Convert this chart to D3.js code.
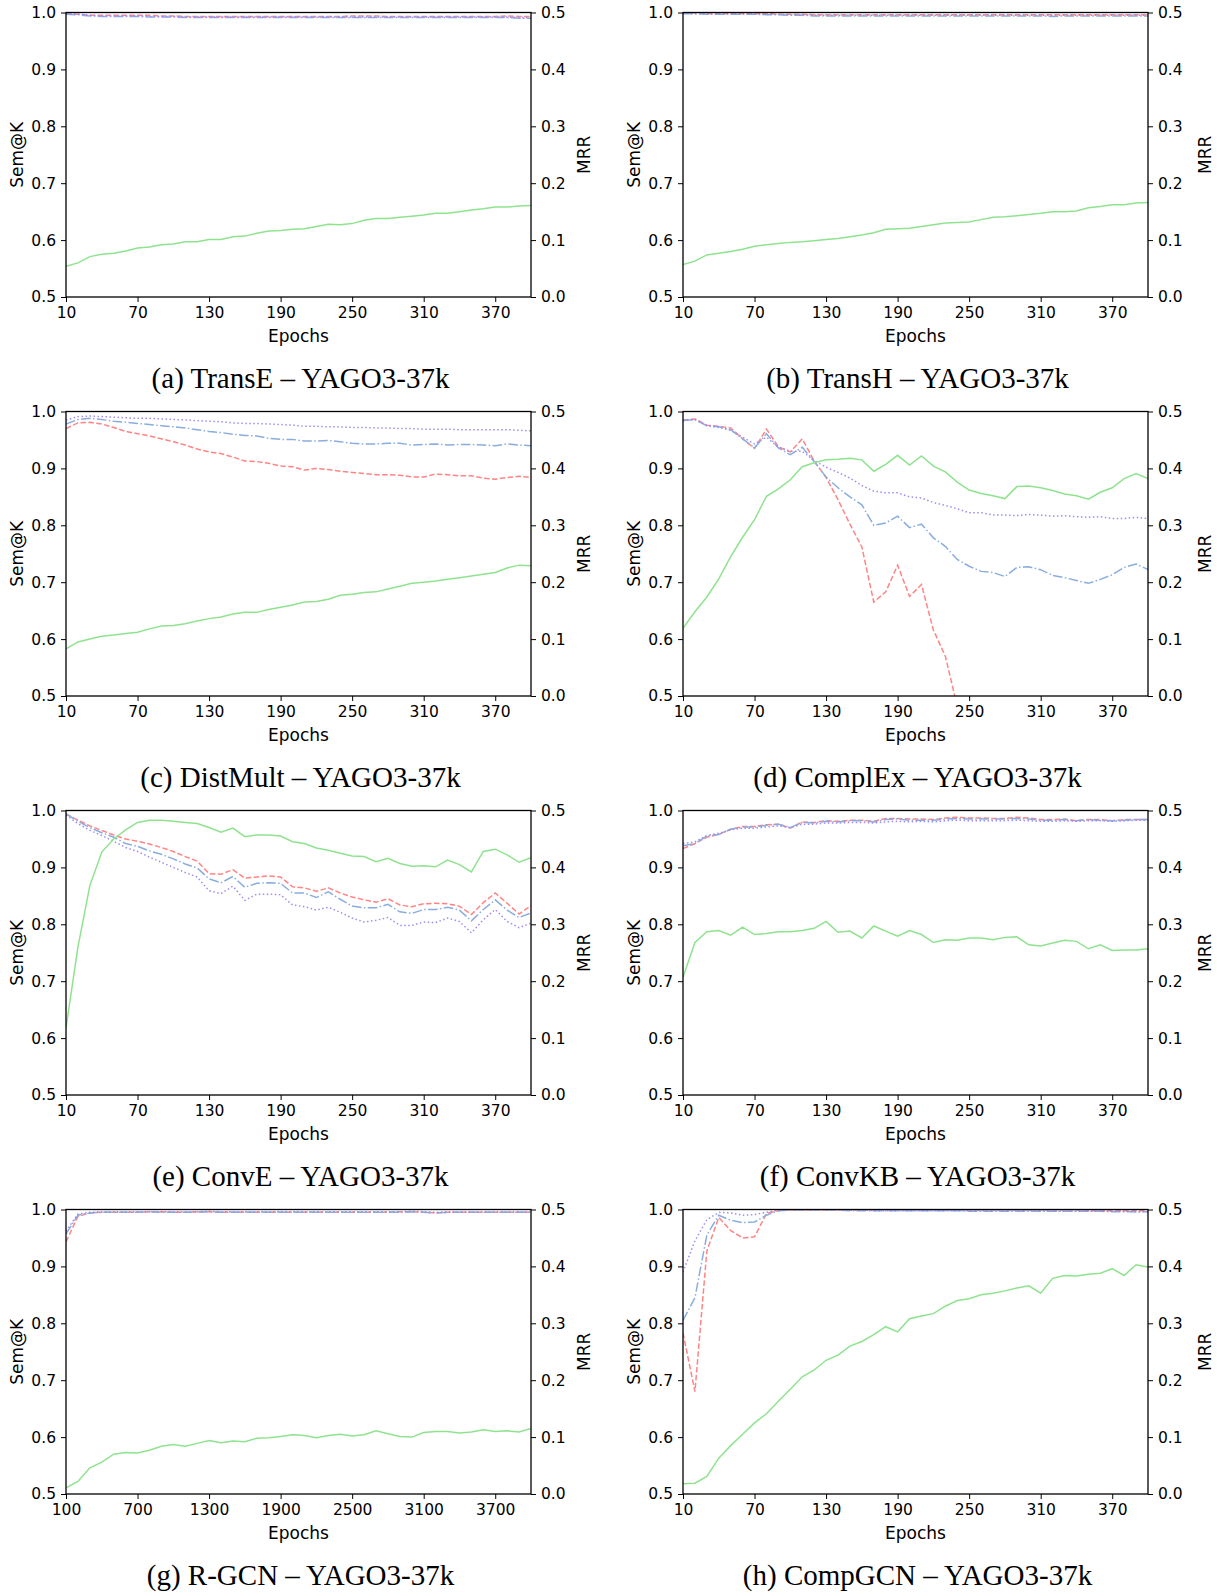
<!DOCTYPE html>
<meta charset="utf-8">
<script src="https://d3js.org/d3.v7.min.js"></script>
<style>
  body { margin: 0; background: #fff; }
</style>
<div id="my_dataviz"></div>
<script>

// epochs on the x axis
var epochs = [10,20,30,40,50,60,70,80,90,100,110,120,130,140,150,160,170,180,190,200,
              210,220,230,240,250,260,270,280,290,300,310,320,330,340,350,360,370,380,390,400];
var rgcnEpochs = [100,200,300,400,500,600,700,800,900,1000,1100,1200,1300,1400,1500,1600,1700,1800,1900,2000,
                  2100,2200,2300,2400,2500,2600,2700,2800,2900,3000,3100,3200,3300,3400,3500,3600,3700,3800,3900,4000];
var xTicks = [10,70,130,190,250,310,370];
var rgcnTicks = [100,700,1300,1900,2500,3100,3700];
var semTicks = [0.5,0.6,0.7,0.8,0.9,1.0];
var mrrTicks = [0.0,0.1,0.2,0.3,0.4,0.5];

// (a) TransE
var transeSem1 = [0.998,0.997,0.995,0.995,0.995,0.995,0.995,0.995,0.994,0.994,0.993,0.993,0.993,0.993,0.993,0.993,0.993,0.993,0.993,0.993,
                  0.993,0.993,0.993,0.993,0.994,0.994,0.994,0.993,0.993,0.993,0.993,0.993,0.993,0.993,0.993,0.993,0.993,0.994,0.993,0.993];
var transeSem3 = [0.997,0.996,0.994,0.993,0.993,0.993,0.993,0.992,0.992,0.992,0.991,0.991,0.991,0.991,0.991,0.991,0.991,0.991,0.991,0.991,
                  0.991,0.991,0.991,0.991,0.991,0.991,0.991,0.991,0.991,0.991,0.991,0.991,0.991,0.991,0.991,0.991,0.991,0.991,0.990,0.990];
var transeSem10 = [0.998,0.997,0.995,0.994,0.994,0.994,0.994,0.993,0.993,0.993,0.992,0.992,0.992,0.992,0.992,0.992,0.992,0.992,0.992,0.992,
                   0.992,0.992,0.992,0.992,0.992,0.992,0.992,0.992,0.992,0.992,0.992,0.992,0.992,0.992,0.992,0.992,0.992,0.992,0.991,0.991];
var transeMrr = [0.054,0.060,0.071,0.075,0.077,0.081,0.086,0.088,0.092,0.093,0.097,0.097,0.101,0.101,0.106,0.107,0.112,0.116,0.117,0.119,
                 0.120,0.124,0.128,0.127,0.129,0.135,0.138,0.138,0.140,0.142,0.144,0.147,0.147,0.150,0.153,0.155,0.158,0.158,0.160,0.161];

// (b) TransH
var transhSem1 = [0.999,0.999,0.998,0.998,0.998,0.998,0.998,0.998,0.997,0.997,0.997,0.996,0.996,0.996,0.996,0.996,0.996,0.996,0.996,0.996,
                  0.996,0.996,0.996,0.996,0.996,0.996,0.996,0.996,0.996,0.996,0.996,0.996,0.996,0.996,0.996,0.996,0.996,0.996,0.996,0.996];
var transhSem3 = [0.998,0.998,0.997,0.997,0.997,0.997,0.997,0.996,0.996,0.995,0.995,0.994,0.994,0.994,0.994,0.994,0.994,0.994,0.994,0.994,
                  0.994,0.994,0.994,0.994,0.994,0.994,0.994,0.994,0.994,0.994,0.994,0.993,0.994,0.994,0.994,0.994,0.994,0.994,0.994,0.994];
var transhSem10 = [0.999,0.998,0.998,0.998,0.998,0.998,0.998,0.997,0.997,0.996,0.996,0.995,0.995,0.995,0.995,0.995,0.995,0.995,0.995,0.995,
                   0.995,0.995,0.995,0.995,0.995,0.995,0.995,0.995,0.995,0.995,0.995,0.995,0.995,0.995,0.995,0.995,0.995,0.995,0.995,0.995];
var transhMrr = [0.057,0.063,0.074,0.077,0.080,0.084,0.089,0.092,0.094,0.096,0.097,0.099,0.101,0.103,0.106,0.109,0.113,0.119,0.120,0.121,
                 0.124,0.127,0.130,0.131,0.132,0.136,0.140,0.141,0.143,0.145,0.147,0.150,0.150,0.151,0.157,0.159,0.162,0.162,0.165,0.166];

// (c) DistMult
var distmultSem1 = [0.970,0.980,0.981,0.978,0.972,0.965,0.961,0.957,0.952,0.947,0.941,0.934,0.929,0.926,0.920,0.913,0.912,0.909,0.904,0.903,
                    0.897,0.900,0.898,0.895,0.893,0.891,0.889,0.889,0.888,0.885,0.885,0.890,0.889,0.887,0.887,0.883,0.881,0.884,0.886,0.884];
var distmultSem3 = [0.978,0.986,0.988,0.986,0.983,0.981,0.979,0.977,0.975,0.973,0.971,0.968,0.965,0.963,0.960,0.958,0.957,0.953,0.951,0.951,
                    0.948,0.948,0.949,0.947,0.944,0.943,0.943,0.944,0.944,0.941,0.942,0.943,0.941,0.942,0.942,0.941,0.940,0.943,0.941,0.940];
var distmultSem10 = [0.985,0.991,0.992,0.991,0.990,0.989,0.988,0.988,0.987,0.986,0.985,0.984,0.983,0.982,0.980,0.979,0.979,0.978,0.977,0.976,
                     0.974,0.974,0.973,0.973,0.972,0.972,0.971,0.971,0.970,0.970,0.969,0.969,0.969,0.968,0.968,0.968,0.968,0.968,0.967,0.966];
var distmultMrr = [0.083,0.095,0.100,0.105,0.107,0.110,0.112,0.118,0.123,0.124,0.127,0.132,0.136,0.139,0.144,0.147,0.147,0.152,0.156,0.160,
                   0.165,0.166,0.170,0.177,0.179,0.182,0.183,0.188,0.193,0.198,0.200,0.202,0.205,0.208,0.211,0.214,0.217,0.225,0.230,0.229];

// (d) ComplEx (Sem@1 drops below the axis after epoch 240)
var complexSem1 = [0.985,0.987,0.976,0.974,0.971,0.952,0.935,0.969,0.938,0.929,0.952,0.913,0.884,0.845,0.802,0.762,0.665,0.683,0.730,0.675,
                   0.696,0.616,0.570,0.482,null,null,null,null,null,null,null,null,null,null,null,null,null,null,null,null];
var complexSem3 = [0.984,0.986,0.975,0.973,0.968,0.952,0.936,0.961,0.936,0.924,0.937,0.912,0.885,0.866,0.850,0.836,0.800,0.804,0.816,0.796,
                   0.802,0.778,0.763,0.740,0.728,0.719,0.717,0.710,0.726,0.727,0.722,0.712,0.708,0.703,0.698,0.705,0.713,0.726,0.732,0.722];
var complexSem10 = [0.984,0.986,0.975,0.972,0.967,0.955,0.943,0.955,0.937,0.930,0.930,0.914,0.902,0.893,0.883,0.870,0.860,0.857,0.857,0.850,
                    0.848,0.840,0.835,0.829,0.822,0.822,0.818,0.818,0.817,0.819,0.818,0.816,0.817,0.815,0.814,0.815,0.812,0.812,0.814,0.812];
var complexMrr = [0.119,0.148,0.174,0.206,0.245,0.279,0.310,0.351,0.364,0.380,0.403,0.410,0.415,0.416,0.418,0.415,0.395,0.407,0.423,0.406,
                  0.422,0.404,0.394,0.376,0.362,0.356,0.352,0.347,0.368,0.369,0.366,0.361,0.355,0.352,0.346,0.358,0.366,0.382,0.391,0.382];

// (e) ConvE
var conveSem1 = [0.994,0.983,0.973,0.965,0.957,0.950,0.946,0.941,0.935,0.928,0.919,0.911,0.889,0.888,0.896,0.881,0.883,0.885,0.883,0.866,
                 0.864,0.858,0.864,0.855,0.848,0.843,0.839,0.845,0.834,0.831,0.836,0.837,0.836,0.832,0.817,0.838,0.855,0.837,0.818,0.833];
var conveSem3 = [0.994,0.981,0.970,0.961,0.953,0.942,0.937,0.929,0.923,0.915,0.906,0.899,0.880,0.873,0.884,0.865,0.872,0.873,0.872,0.855,
                 0.855,0.847,0.857,0.844,0.832,0.829,0.829,0.835,0.822,0.819,0.826,0.826,0.830,0.825,0.806,0.826,0.843,0.825,0.812,0.820];
var conveSem10 = [0.992,0.977,0.965,0.956,0.946,0.935,0.928,0.918,0.909,0.900,0.891,0.883,0.859,0.854,0.867,0.842,0.853,0.853,0.852,0.834,
                  0.831,0.825,0.830,0.821,0.811,0.804,0.807,0.812,0.798,0.798,0.804,0.803,0.811,0.805,0.785,0.808,0.826,0.805,0.794,0.802];
var conveMrr = [0.118,0.260,0.368,0.427,0.450,0.466,0.479,0.483,0.483,0.481,0.479,0.477,0.470,0.462,0.469,0.454,0.457,0.457,0.455,0.445,
                0.442,0.434,0.430,0.425,0.420,0.419,0.410,0.416,0.407,0.402,0.403,0.401,0.413,0.405,0.392,0.428,0.432,0.422,0.409,0.417];

// (f) ConvKB
var convkbSem1 = [0.933,0.942,0.953,0.958,0.967,0.972,0.972,0.975,0.976,0.969,0.980,0.979,0.982,0.981,0.983,0.983,0.981,0.986,0.986,0.985,
                  0.985,0.984,0.987,0.988,0.987,0.987,0.986,0.986,0.988,0.987,0.984,0.984,0.985,0.982,0.984,0.984,0.982,0.984,0.984,0.984];
var convkbSem3 = [0.938,0.942,0.955,0.958,0.967,0.971,0.971,0.974,0.976,0.970,0.979,0.978,0.981,0.980,0.982,0.982,0.980,0.984,0.985,0.983,
                  0.983,0.983,0.985,0.986,0.985,0.985,0.985,0.985,0.986,0.985,0.983,0.983,0.984,0.982,0.984,0.983,0.982,0.983,0.984,0.984];
var convkbSem10 = [0.942,0.945,0.956,0.960,0.966,0.969,0.969,0.971,0.973,0.970,0.976,0.976,0.978,0.978,0.979,0.979,0.978,0.980,0.981,0.980,
                   0.981,0.980,0.982,0.983,0.982,0.982,0.982,0.982,0.983,0.982,0.981,0.981,0.982,0.981,0.982,0.982,0.981,0.982,0.983,0.983];
var convkbMrr = [0.207,0.268,0.287,0.289,0.281,0.295,0.282,0.284,0.287,0.287,0.289,0.293,0.305,0.286,0.288,0.276,0.297,0.288,0.279,0.289,
                 0.282,0.268,0.273,0.272,0.276,0.276,0.273,0.277,0.278,0.264,0.262,0.267,0.272,0.270,0.257,0.264,0.254,0.255,0.255,0.257];

// (g) R-GCN
var rgcnSem1 = [0.943,0.988,0.994,0.995,0.995,0.995,0.995,0.996,0.996,0.995,0.995,0.996,0.996,0.995,0.995,0.995,0.995,0.995,0.995,0.995,
                0.995,0.995,0.995,0.995,0.995,0.995,0.995,0.995,0.996,0.996,0.995,0.994,0.995,0.995,0.995,0.995,0.995,0.995,0.995,0.995];
var rgcnSem3 = [0.957,0.990,0.994,0.995,0.995,0.995,0.995,0.996,0.995,0.995,0.995,0.995,0.996,0.995,0.995,0.995,0.995,0.995,0.995,0.995,
                0.995,0.995,0.995,0.995,0.995,0.995,0.995,0.995,0.995,0.996,0.995,0.994,0.995,0.995,0.995,0.995,0.995,0.995,0.995,0.995];
var rgcnSem10 = [0.962,0.992,0.995,0.996,0.996,0.996,0.996,0.996,0.996,0.996,0.996,0.996,0.997,0.996,0.996,0.996,0.996,0.996,0.996,0.996,
                 0.996,0.996,0.996,0.996,0.996,0.996,0.996,0.996,0.996,0.997,0.996,0.995,0.996,0.996,0.996,0.996,0.996,0.996,0.996,0.996];
var rgcnMrr = [0.011,0.022,0.046,0.056,0.070,0.073,0.072,0.077,0.084,0.087,0.084,0.089,0.094,0.090,0.093,0.092,0.098,0.099,0.101,0.104,
               0.103,0.099,0.103,0.105,0.102,0.104,0.111,0.106,0.101,0.100,0.108,0.110,0.110,0.107,0.109,0.113,0.110,0.111,0.109,0.115];

// (h) CompGCN
var compgcnSem1 = [0.783,0.680,0.927,0.986,0.963,0.950,0.952,0.993,0.998,0.999,0.999,0.999,0.999,0.999,0.999,0.999,0.999,0.999,0.999,0.999,
                   0.999,0.999,0.999,0.999,0.999,0.999,0.999,0.999,0.999,0.999,0.999,0.999,0.999,0.999,0.998,0.998,0.998,0.998,0.998,0.998];
var compgcnSem3 = [0.805,0.845,0.955,0.990,0.981,0.977,0.978,0.990,0.998,0.999,0.999,0.999,0.999,0.999,0.998,0.998,0.998,0.998,0.998,0.998,
                   0.998,0.998,0.998,0.998,0.997,0.997,0.997,0.997,0.997,0.997,0.997,0.997,0.997,0.997,0.997,0.997,0.996,0.996,0.996,0.996];
var compgcnSem10 = [0.890,0.945,0.982,0.995,0.994,0.990,0.991,0.995,0.999,0.999,0.999,0.999,0.999,0.999,0.999,0.999,0.998,0.998,0.998,0.998,
                    0.998,0.998,0.998,0.998,0.998,0.998,0.998,0.998,0.998,0.998,0.998,0.997,0.997,0.997,0.997,0.997,0.997,0.997,0.996,0.996];
var compgcnMrr = [0.018,0.019,0.031,0.063,0.085,0.105,0.125,0.141,0.163,0.184,0.206,0.218,0.235,0.244,0.260,0.268,0.280,0.294,0.285,0.308,
                  0.313,0.317,0.330,0.340,0.343,0.350,0.353,0.357,0.362,0.366,0.353,0.379,0.384,0.383,0.386,0.388,0.396,0.384,0.403,0.399];

var panels = [
  {caption: "(a) TransE \u2013 YAGO3-37k",   x: epochs,     ticks: xTicks,    s1: transeSem1,   s3: transeSem3,   s10: transeSem10,   mrr: transeMrr},
  {caption: "(b) TransH \u2013 YAGO3-37k",   x: epochs,     ticks: xTicks,    s1: transhSem1,   s3: transhSem3,   s10: transhSem10,   mrr: transhMrr},
  {caption: "(c) DistMult \u2013 YAGO3-37k", x: epochs,     ticks: xTicks,    s1: distmultSem1, s3: distmultSem3, s10: distmultSem10, mrr: distmultMrr},
  {caption: "(d) ComplEx \u2013 YAGO3-37k",  x: epochs,     ticks: xTicks,    s1: complexSem1,  s3: complexSem3,  s10: complexSem10,  mrr: complexMrr},
  {caption: "(e) ConvE \u2013 YAGO3-37k",    x: epochs,     ticks: xTicks,    s1: conveSem1,    s3: conveSem3,    s10: conveSem10,    mrr: conveMrr},
  {caption: "(f) ConvKB \u2013 YAGO3-37k",   x: epochs,     ticks: xTicks,    s1: convkbSem1,   s3: convkbSem3,   s10: convkbSem10,   mrr: convkbMrr},
  {caption: "(g) R-GCN \u2013 YAGO3-37k",    x: rgcnEpochs, ticks: rgcnTicks, s1: rgcnSem1,     s3: rgcnSem3,     s10: rgcnSem10,     mrr: rgcnMrr},
  {caption: "(h) CompGCN \u2013 YAGO3-37k",  x: epochs,     ticks: xTicks,    s1: compgcnSem1,  s3: compgcnSem3,  s10: compgcnSem10,  mrr: compgcnMrr}
];

// layout of the 4x2 grid
var colLeft = [66, 683],
    rowTop = [12.5, 411.5, 810.5, 1209.5],
    mrrLabelOffset = [53, 57],
    width = 465,
    height = 284.5;

var tickFont = "DejaVu Sans";

var svg = d3.select("#my_dataviz")
  .append("svg")
  .attr("width", 1217)
  .attr("height", 1596)
  .style("background", "#fff");

var defs = svg.append("defs");

panels.forEach(function (p, i) {
  var col = i % 2, row = Math.floor(i / 2);
  var g = svg.append("g")
    .attr("transform", "translate(" + colLeft[col] + "," + rowTop[row] + ")");

  var x = d3.scaleLinear().domain([p.x[0], p.x[p.x.length - 1]]).range([0, width]);
  var y = d3.scaleLinear().domain([0.5, 1.0]).range([height, 0]);
  var y2 = d3.scaleLinear().domain([0.0, 0.5]).range([height, 0]);

  defs.append("clipPath").attr("id", "clip" + i)
    .append("rect").attr("width", width).attr("height", height);

  // axes
  var xAxis = g.append("g").attr("transform", "translate(0," + height + ")")
    .call(d3.axisBottom(x).tickValues(p.ticks).tickSize(5).tickPadding(5).tickFormat(d3.format("d")));
  var yAxis = g.append("g")
    .call(d3.axisLeft(y).tickValues(semTicks).tickSize(5).tickPadding(5).tickFormat(d3.format(".1f")));
  var y2Axis = g.append("g").attr("transform", "translate(" + width + ",0)")
    .call(d3.axisRight(y2).tickValues(mrrTicks).tickSize(5).tickPadding(5).tickFormat(d3.format(".1f")));

  [xAxis, yAxis, y2Axis].forEach(function (a) {
    a.select(".domain").remove();
    a.attr("font-family", tickFont).attr("font-size", 15.5);
    a.selectAll("line").attr("stroke", "#000").attr("stroke-width", 1);
    a.selectAll("text").attr("fill", "#000");
  });

  // lines
  var plot = g.append("g").attr("clip-path", "url(#clip" + i + ")");
  function line(scale) {
    return d3.line()
      .defined(function (d) { return d != null; })
      .x(function (d, j) { return x(p.x[j]); })
      .y(function (d) { return scale(d); });
  }
  var series = [
    {v: p.s1,  scale: y,  color: "#ff8585", dash: "5.5,2.4"},
    {v: p.s3,  scale: y,  color: "#8aaddf", dash: "9.6,2.4,1.5,2.4"},
    {v: p.s10, scale: y,  color: "#a08cf2", dash: "1.5,2.5"},
    {v: p.mrr, scale: y2, color: "#8fe38f", dash: null}
  ];
  series.forEach(function (s) {
    plot.append("path")
      .attr("d", line(s.scale)(s.v))
      .attr("fill", "none")
      .attr("stroke", s.color)
      .attr("stroke-width", 1.5)
      .attr("stroke-dasharray", s.dash);
  });

  // frame
  g.append("rect")
    .attr("width", width).attr("height", height)
    .attr("fill", "none").attr("stroke", "#000").attr("stroke-width", 1.3);

  // axis titles
  g.append("text")
    .attr("transform", "translate(-49.5," + height / 2 + ") rotate(-90)")
    .attr("dy", "0.36em")
    .attr("text-anchor", "middle")
    .attr("font-family", tickFont).attr("font-size", 17)
    .text("Sem@K");
  g.append("text")
    .attr("transform", "translate(" + (width + mrrLabelOffset[col]) + "," + height / 2 + ") rotate(-90)")
    .attr("dy", "0.36em")
    .attr("text-anchor", "middle")
    .attr("font-family", tickFont).attr("font-size", 17)
    .text("MRR");
  g.append("text")
    .attr("x", width / 2).attr("y", height + 45)
    .attr("text-anchor", "middle")
    .attr("font-family", tickFont).attr("font-size", 17)
    .text("Epochs");

  // caption
  g.append("text")
    .attr("x", width / 2 + 2).attr("y", height + 91)
    .attr("text-anchor", "middle")
    .attr("font-family", "Liberation Serif").attr("font-size", 29)
    .text(p.caption);
});
</script>
